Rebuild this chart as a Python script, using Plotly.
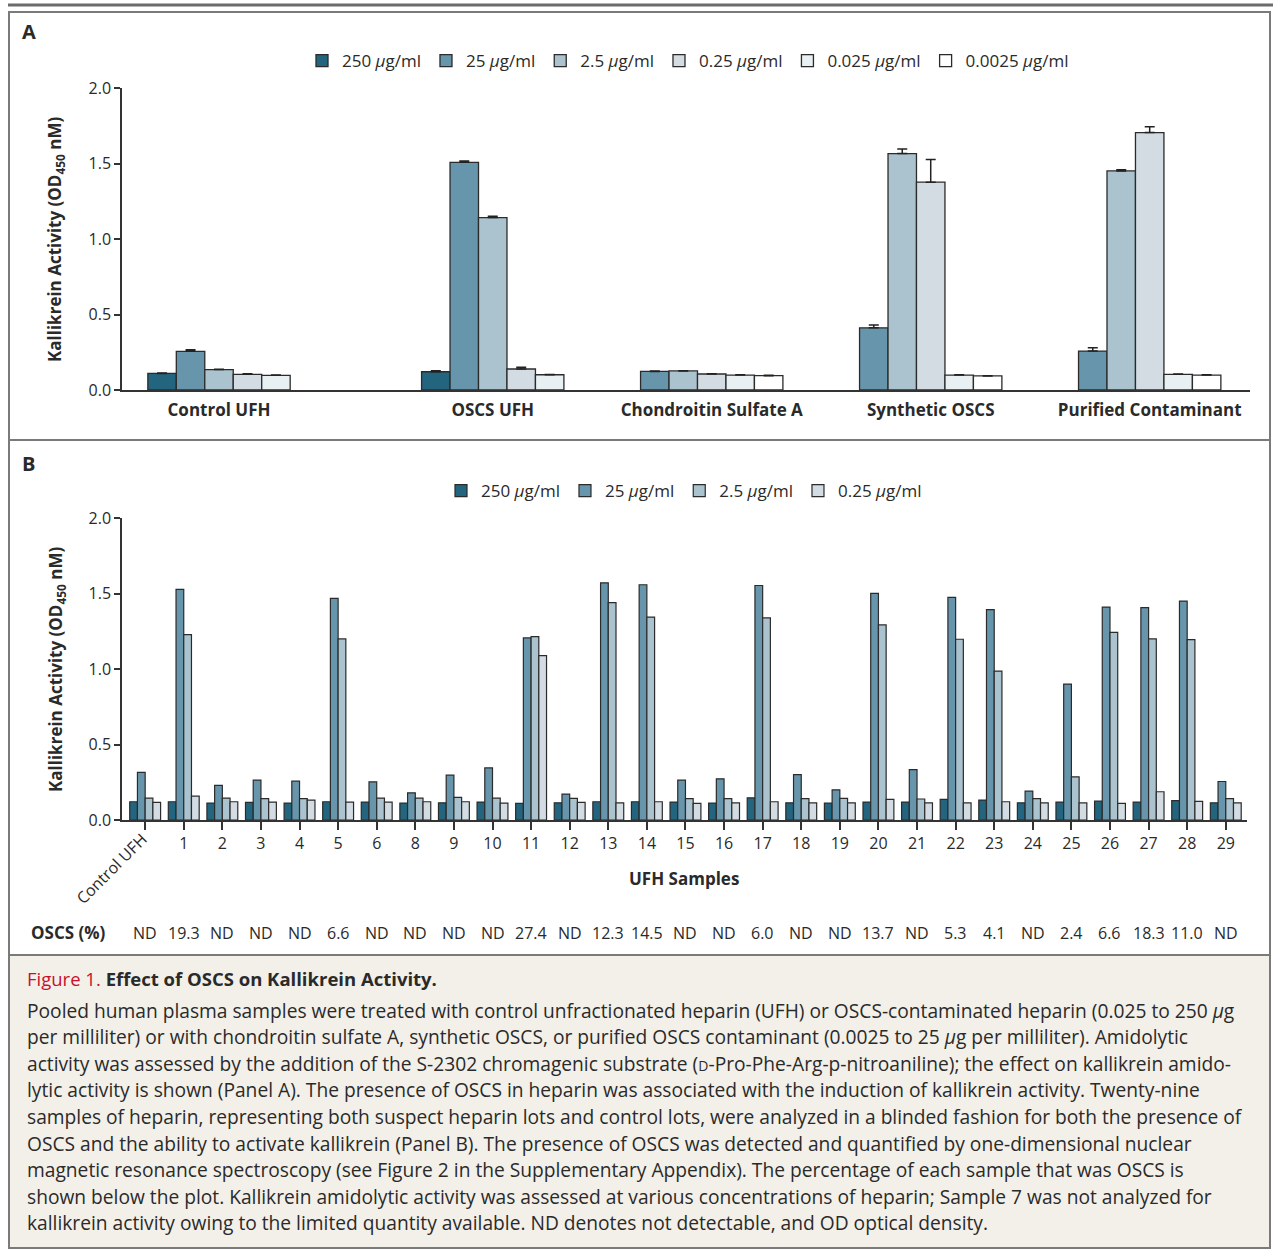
import plotly.graph_objects as go

W, H = 1273, 1250

# ---- Panel A data -------------------------------------------------------
concentrations_a = ["250", "25", "2.5", "0.25", "0.025", "0.0025"]
groups_a = ["Control UFH", "OSCS UFH", "Chondroitin Sulfate A",
            "Synthetic OSCS", "Purified Contaminant"]

a_250 = [0.110, 0.121, None, None, None]
a_25 = [0.256, 1.508, 0.123, 0.412, 0.258]
a_2_5 = [0.135, 1.142, 0.126, 1.566, 1.451]
a_0_25 = [0.104, 0.139, 0.106, 1.376, 1.705]
a_0_025 = [0.097, 0.101, 0.099, 0.099, 0.104]
a_0_0025 = [None, None, 0.095, 0.093, 0.099]

err_250 = [0.002, 0.007, None, None, None]
err_25 = [0.011, 0.009, 0.003, 0.018, 0.022]
err_2_5 = [0.003, 0.009, 0.002, 0.030, 0.007]
err_0_25 = [0.003, 0.011, 0.002, 0.150, 0.039]
err_0_025 = [0.002, 0.002, 0.002, 0.002, 0.002]
err_0_0025 = [None, None, 0.002, 0.002, 0.002]

# ---- Panel B data -------------------------------------------------------
concentrations_b = ["250", "25", "2.5", "0.25"]
samples = ["Control UFH", "1", "2", "3", "4", "5", "6", "8", "9", "10",
           "11", "12", "13", "14", "15", "16", "17", "18", "19", "20",
           "21", "22", "23", "24", "25", "26", "27", "28", "29"]

b_250 = [0.121, 0.121, 0.112, 0.117, 0.112, 0.121, 0.119, 0.112, 0.114, 0.119,
         0.110, 0.114, 0.121, 0.121, 0.119, 0.112, 0.147, 0.114, 0.112, 0.119,
         0.119, 0.136, 0.132, 0.114, 0.119, 0.125, 0.119, 0.128, 0.114]
b_25 = [0.315, 1.527, 0.229, 0.264, 0.257, 1.468, 0.253, 0.180, 0.297, 0.345,
        1.206, 0.172, 1.571, 1.558, 0.264, 0.273, 1.553, 0.301, 0.200, 1.501,
        0.334, 1.474, 1.393, 0.191, 0.900, 1.410, 1.406, 1.450, 0.255]
b_2_5 = [0.145, 1.228, 0.145, 0.141, 0.141, 1.199, 0.145, 0.145, 0.150, 0.145,
         1.215, 0.143, 1.439, 1.344, 0.141, 0.141, 1.338, 0.141, 0.143, 1.292,
         0.139, 1.197, 0.986, 0.141, 0.286, 1.243, 1.199, 1.195, 0.141]
b_0_25 = [0.117, 0.158, 0.121, 0.119, 0.132, 0.119, 0.119, 0.121, 0.121, 0.112,
          1.089, 0.117, 0.114, 0.121, 0.110, 0.114, 0.121, 0.114, 0.114, 0.136,
          0.114, 0.114, 0.121, 0.114, 0.114, 0.110, 0.187, 0.123, 0.114]

oscs_pct = ["ND", "19.3", "ND", "ND", "ND", "6.6", "ND", "ND", "ND", "ND",
            "27.4", "ND", "12.3", "14.5", "ND", "ND", "6.0", "ND", "ND", "13.7",
            "ND", "5.3", "4.1", "ND", "2.4", "6.6", "18.3", "11.0", "ND"]

caption_lines = [
    "Pooled human plasma samples were treated with control unfractionated heparin (UFH) or OSCS-contaminated heparin (0.025 to 250 <i>μ</i>g",
    "per milliliter) or with chondroitin sulfate A, synthetic OSCS, or purified OSCS contaminant (0.0025 to 25 <i>μ</i>g per milliliter). Amidolytic",
    "activity was assessed by the addition of the S-2302 chromagenic substrate (<span style='font-size:14px'>D</span>-Pro-Phe-Arg-p-nitroaniline); the effect on kallikrein amido-",
    "lytic activity is shown (Panel A). The presence of OSCS in heparin was associated with the induction of kallikrein activity. Twenty-nine",
    "samples of heparin, representing both suspect heparin lots and control lots, were analyzed in a blinded fashion for both the presence of",
    "OSCS and the ability to activate kallikrein (Panel B). The presence of OSCS was detected and quantified by one-dimensional nuclear",
    "magnetic resonance spectroscopy (see Figure 2 in the Supplementary Appendix). The percentage of each sample that was OSCS is",
    "shown below the plot. Kallikrein amidolytic activity was assessed at various concentrations of heparin; Sample 7 was not analyzed for",
    "kallikrein activity owing to the limited quantity available. ND denotes not detectable, and OD optical density.",
]

COLORS = ["#23657e", "#6796ac", "#abc3cf", "#d3dce3", "#e8f0f3", "#ffffff"]
EDGE = "#2b2b2b"
TEXT = "#2a2a2a"
FONT = "Open Sans"


def px(x):
    return x / W


def py(y):
    return 1 - y / H


fig = go.Figure()

# Panel A: bars placed by hand within each group (groups use different
# concentration sets, so the slot offset depends on the group)
group_x = [0, 1.25, 2.25, 3.25, 4.25]
first_slot = [0, 0, 1, 1, 1]
bw = 0.13
series_a = [a_250, a_25, a_2_5, a_0_25, a_0_025, a_0_0025]
errors_a = [err_250, err_25, err_2_5, err_0_25, err_0_025, err_0_0025]
for ci, (label, vals, errs) in enumerate(zip(concentrations_a, series_a, errors_a)):
    xs, ys, es, offs = [], [], [], []
    for gi, v in enumerate(vals):
        if v is None:
            continue
        slot = ci - first_slot[gi]
        xs.append(group_x[gi])
        ys.append(v)
        es.append(errs[gi])
        offs.append((slot - 2.5) * bw)
    fig.add_trace(go.Bar(
        x=xs, y=ys, offset=offs, width=bw,
        name=f"{label} <i>μ</i>g/ml",
        marker=dict(color=COLORS[ci], line=dict(color=EDGE, width=1.3)),
        error_y=dict(type="data", symmetric=False, array=es,
                     arrayminus=[0] * len(es), color="#222", thickness=1.5, width=5),
        xaxis="x", yaxis="y", legend="legend",
    ))

# Panel B
series_b = [b_250, b_25, b_2_5, b_0_25]
for ci, (label, vals) in enumerate(zip(concentrations_b, series_b)):
    fig.add_trace(go.Bar(
        x=samples, y=vals, offset=-0.4 + 0.2 * ci, width=0.2,
        name=f"{label} <i>μ</i>g/ml",
        marker=dict(color=COLORS[ci], line=dict(color=EDGE, width=1.2)),
        xaxis="x2", yaxis="y2", legend="legend2",
    ))

axis_common = dict(showline=True, linecolor="#333", linewidth=1.5,
                   showgrid=False, zeroline=False, automargin=False)
yaxis_common = dict(axis_common, range=[0, 2.0], tickvals=[0, 0.5, 1.0, 1.5, 2.0],
                    tickformat=".1f", ticks="outside", ticklen=6, tickwidth=1.5,
                    tickcolor="#333", tickfont=dict(size=16, color=TEXT))

fig.update_layout(
    width=W, height=H,
    margin=dict(l=0, r=0, t=0, b=0, pad=0, autoexpand=False),
    paper_bgcolor="white", plot_bgcolor="white",
    font=dict(family=FONT, color=TEXT),
    barmode="overlay",
    xaxis=dict(axis_common, domain=[px(122), px(1250)], range=[-0.443, 4.708],
               tickvals=group_x, ticktext=groups_a, ticks="",
               tickfont=dict(size=17, color=TEXT, weight="bold"),
               ticklabelstandoff=4, anchor="y"),
    yaxis=dict(yaxis_common, domain=[py(390), py(88)], anchor="x"),
    xaxis2=dict(axis_common, domain=[px(122), px(1247)], range=[-0.6, 28.55],
                type="category", tickvals=samples,
                ticktext=[""] + samples[1:], ticks="outside", ticklen=8,
                tickwidth=1.5, tickcolor="#333",
                tickfont=dict(size=16, color=TEXT), anchor="y2"),
    yaxis2=dict(yaxis_common, domain=[py(820), py(518)], anchor="x2"),
    legend=dict(orientation="h", x=px(688), y=py(61), xanchor="center",
                yanchor="middle", font=dict(size=17, color=TEXT),
                bgcolor="rgba(0,0,0,0)"),
    legend2=dict(orientation="h", x=px(684), y=py(491), xanchor="center",
                 yanchor="middle", font=dict(size=17, color=TEXT),
                 bgcolor="rgba(0,0,0,0)"),
)

# frames and caption box
shapes = [
    dict(type="line", x0=px(8), x1=px(1273), y0=py(5), y1=py(5),
         line=dict(color="#6b6b6b", width=3)),
    dict(type="rect", x0=px(9), x1=px(1270), y0=py(12), y1=py(955),
         line=dict(color="#7a7a7a", width=2)),
    dict(type="line", x0=px(9), x1=px(1270), y0=py(440), y1=py(440),
         line=dict(color="#7a7a7a", width=2)),
    dict(type="rect", x0=px(9), x1=px(1270), y0=py(955), y1=py(1248),
         fillcolor="#f3f0e9", line=dict(color="#7a7a7a", width=2), layer="below"),
]
for s in shapes:
    s.update(xref="paper", yref="paper")
fig.update_layout(shapes=shapes)

ann = []


def note(text, x, y, size=17, xanchor="left", yanchor="middle", angle=0, **kw):
    ann.append(dict(text=text, x=x, y=y, xref=kw.pop("xref", "paper"),
                    yref="paper", showarrow=False, xanchor=xanchor,
                    yanchor=yanchor, textangle=angle,
                    font=dict(size=size, color=kw.pop("color", TEXT),
                              family=FONT, weight=kw.pop("weight", "normal"))))


note("A", px(20), py(32), size=20, weight="bold")
note("B", px(20), py(463), size=20, weight="bold")
ytitle = "Kallikrein Activity (OD<sub>450</sub> nM)"
note(ytitle, px(56), py(240), size=17, xanchor="center", angle=-90, weight="bold")
note(ytitle, px(56), py(670), size=17, xanchor="center", angle=-90, weight="bold")
note("Control UFH", px(111), py(869), size=16, xanchor="center", angle=-45)
note("UFH Samples", px(684), py(878), size=17, xanchor="center", weight="bold")
note("OSCS (%)", px(29), py(933), size=17, weight="bold")
# category axes take the category index as the annotation position
for i, v in enumerate(oscs_pct):
    note(v, i, py(933), size=16, xanchor="center", xref="x2")

note("<span style='color:#c8102e'>Figure 1.</span> <b>Effect of OSCS on Kallikrein Activity.</b>",
     px(25), py(978), size=18.5)
for i, line in enumerate(caption_lines):
    note(line, px(25), py(1010 + 26.6 * i), size=19.2)

fig.update_layout(annotations=ann)
page_fix = (
    "document.documentElement.style.margin='0';"
    "document.documentElement.style.overflow='hidden';"
    "document.body.style.margin='0';document.body.style.padding='0';"
    "document.body.style.overflow='hidden';"
    "var gd=document.getElementById('{plot_id}');"
    "gd.style.position='absolute';gd.style.left='0px';gd.style.top='0px';"
)
fig.write_html("out.html", config={"displayModeBar": False}, post_script=page_fix)
